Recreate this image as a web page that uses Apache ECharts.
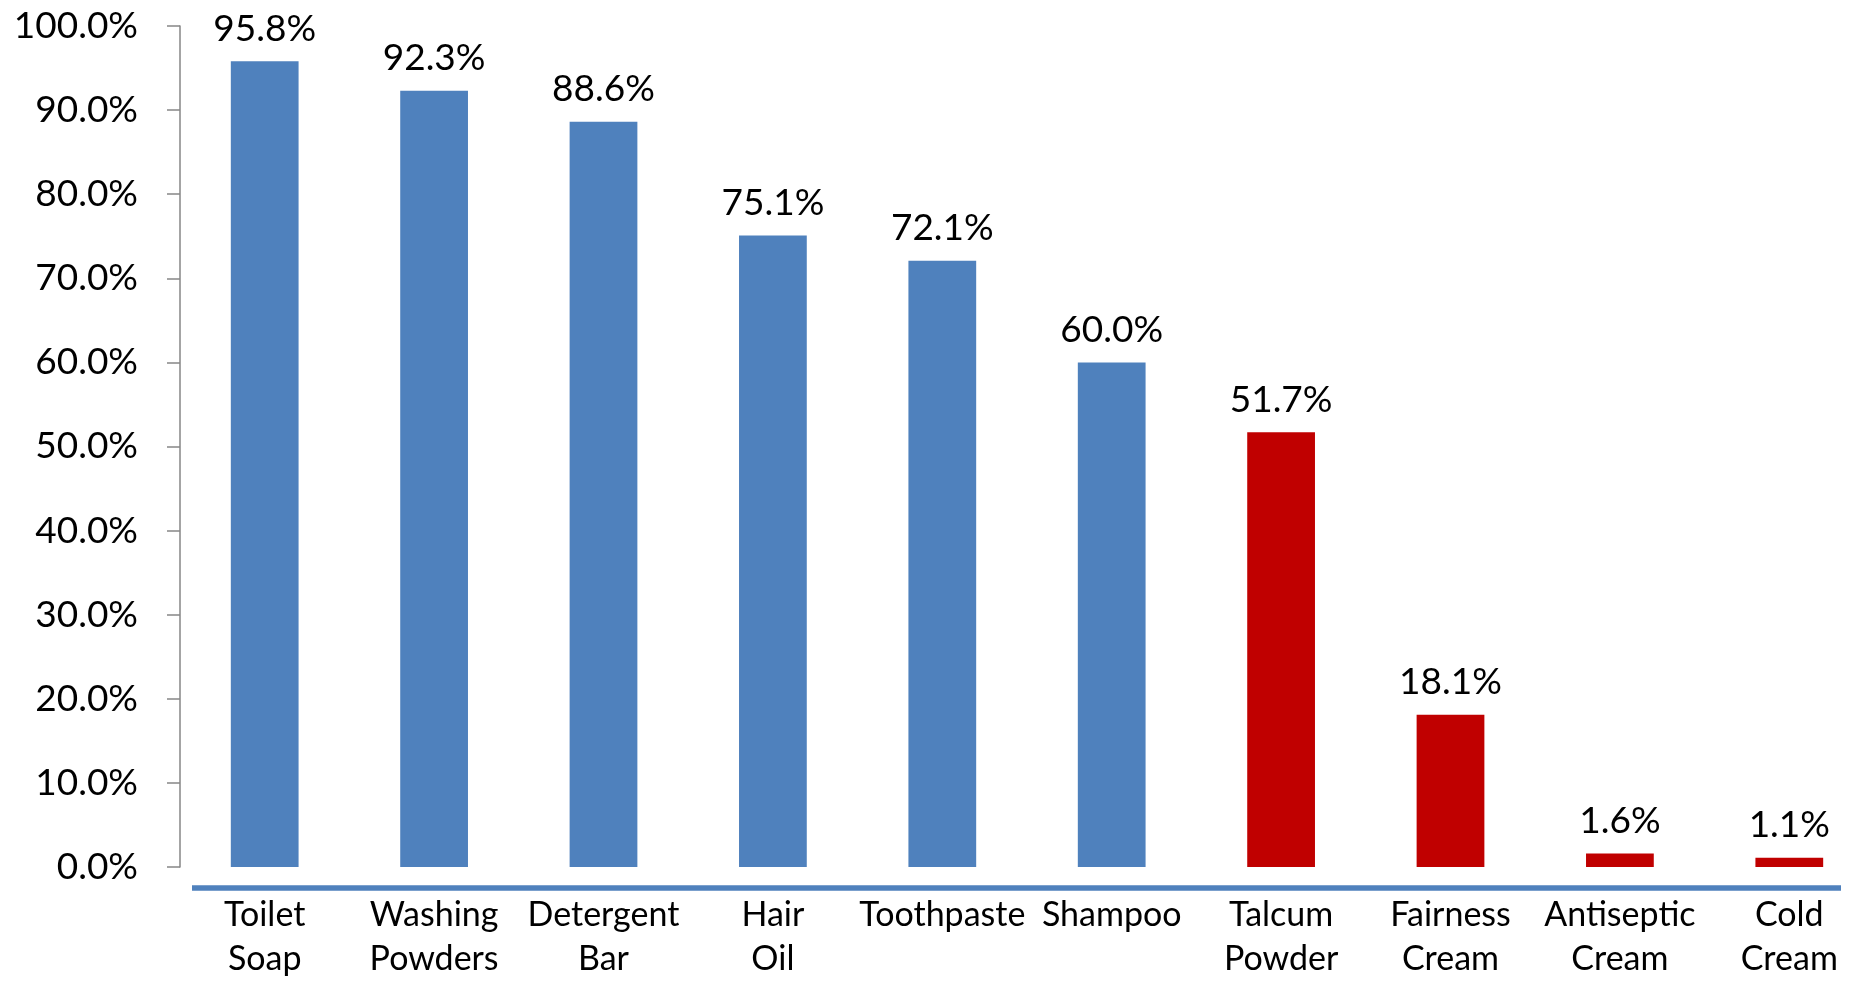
<!DOCTYPE html>
<html>
<head>
<meta charset="utf-8">
<script src="https://cdn.jsdelivr.net/npm/echarts@6/dist/echarts.min.js"></script>
<style>html,body{margin:0;padding:0;background:#fff;}#c{width:1874px;height:981px;}</style>
</head>
<body>
<div id="c"></div>
<script>
const categories = ['Toilet\nSoap','Washing\nPowders','Detergent\nBar','Hair\nOil','Toothpaste','Shampoo','Talcum\nPowder','Fairness\nCream','Antiseptic\nCream','Cold\nCream'];
const values = [95.8, 92.3, 88.6, 75.1, 72.1, 60.0, 51.7, 18.1, 1.6, 1.1];
const barColors = ['#4F81BD','#4F81BD','#4F81BD','#4F81BD','#4F81BD','#4F81BD','#C00000','#C00000','#C00000','#C00000'];
const yTicks = {min: 0, max: 100, interval: 10};

const font = 'Lato, sans-serif';
const chart = echarts.init(document.getElementById('c'), null, {renderer: 'canvas'});
chart.setOption({
  animation: false,
  backgroundColor: '#fff',
  grid: {left: 180, top: 26, bottom: 109, right: -13, containLabel: false},
  xAxis: {
    type: 'category',
    data: categories,
    axisLine: {show: false},
    axisTick: {show: false},
    axisLabel: {color: '#000', fontSize: 34, fontFamily: font, lineHeight: 44, margin: 26, interval: 0}
  },
  yAxis: {
    type: 'value',
    min: yTicks.min, max: yTicks.max, interval: yTicks.interval,
    axisLine: {show: true, lineStyle: {color: '#868686', width: 1.5}},
    axisTick: {show: true, length: 13, lineStyle: {color: '#868686', width: 1.5}},
    splitLine: {show: false},
    axisLabel: {color: '#000', fontSize: 37, fontFamily: font, margin: 42, formatter: v => v.toFixed(1) + '%'}
  },
  graphic: [{
    type: 'line',
    shape: {x1: 192, y1: 888, x2: 1841, y2: 888},
    style: {stroke: '#4F81BD', lineWidth: 5.5}
  }],
  series: [{
    type: 'bar',
    barWidth: '40%',
    data: values.map((v, i) => ({value: v, itemStyle: {color: barColors[i]}})),
    label: {show: true, position: 'top', distance: 14, color: '#000', fontSize: 37, fontFamily: font, formatter: p => p.value.toFixed(1) + '%'}
  }]
});
</script>
</body>
</html>
